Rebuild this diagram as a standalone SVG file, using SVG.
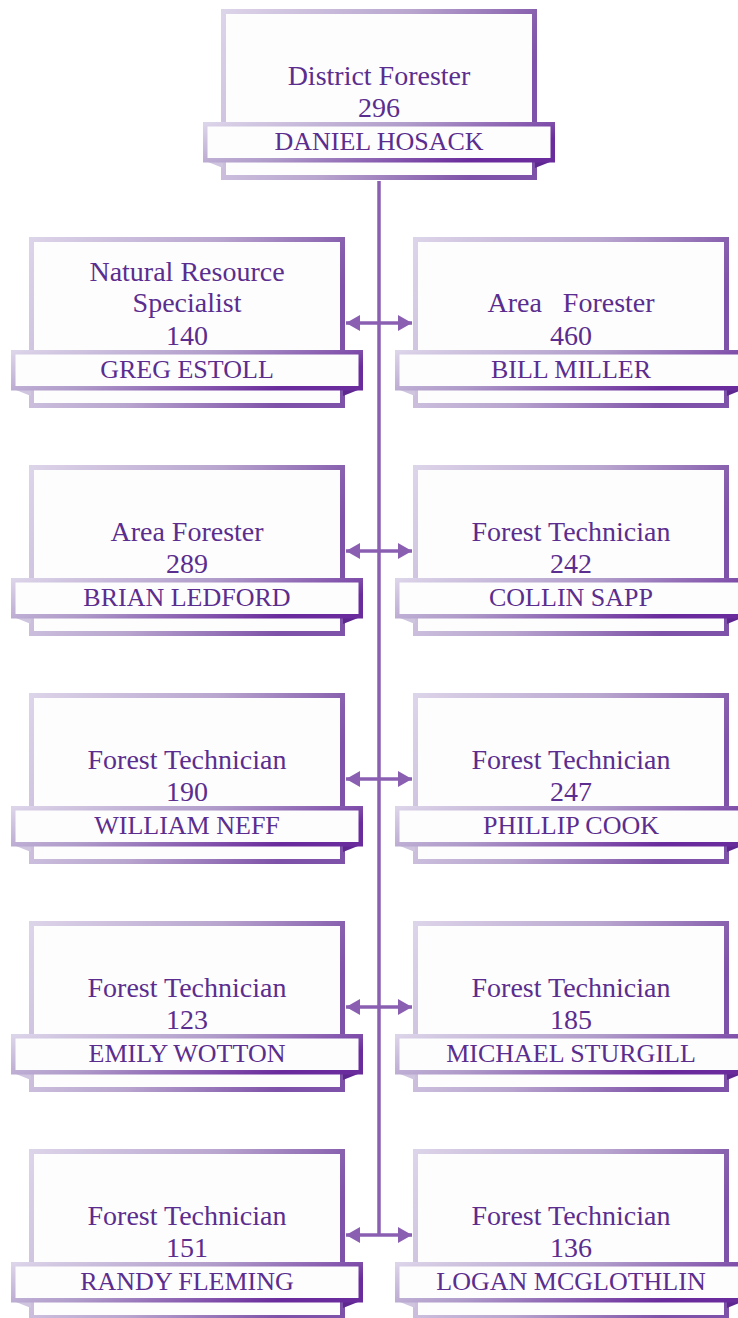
<svg xmlns="http://www.w3.org/2000/svg" width="738" height="1318" viewBox="0 0 738 1318">
<defs>
<linearGradient id="gBox" x1="0" y1="0" x2="1" y2="0.3">
<stop offset="0" stop-color="#dcd4e9"/>
<stop offset="0.55" stop-color="#b9a6cf"/>
<stop offset="1" stop-color="#7e52a8"/>
</linearGradient>
<linearGradient id="gBand" x1="0" y1="0" x2="1" y2="0.4">
<stop offset="0" stop-color="#dcd4e9"/>
<stop offset="0.5" stop-color="#b09cca"/>
<stop offset="1" stop-color="#6a2c9c"/>
</linearGradient>
<marker id="ah" viewBox="0 0 14 16" refX="14" refY="8" markerWidth="14" markerHeight="16" markerUnits="userSpaceOnUse" orient="auto-start-reverse">
<path d="M0,0 L14,8 L0,16 Z" fill="#8a5fb2"/>
</marker>
<g id="node">
<rect class="box" x="2.5" y="2.5" width="311" height="166"/>
<polygon points="-18,151 2,151 2,159" fill="#cfc5df"/>
<polygon points="314,151 334,151 314,159" fill="#5e2790"/>
<rect class="band" x="-15.75" y="115.25" width="347.5" height="36"/>
</g>
</defs>
<style>
.box{fill:#fdfdfd;stroke:url(#gBox);stroke-width:5}
.band{fill:#fdfdfd;stroke:url(#gBand);stroke-width:4.5}
.t{font-family:"Liberation Serif","Times New Roman",serif;font-size:28px;fill:#5b2d8e;text-anchor:middle}
.n{font-family:"Liberation Serif","Times New Roman",serif;font-size:26px;fill:#5b2d8e;text-anchor:middle}
.c{stroke:#8a5fb2;stroke-width:3.5;fill:none}
</style>

<g id="connectors">
<line class="c" x1="379" y1="181" x2="379" y2="1236"/>
<line class="c" x1="346" y1="323" x2="412" y2="323" marker-start="url(#ah)" marker-end="url(#ah)"/>
<line class="c" x1="346" y1="551" x2="412" y2="551" marker-start="url(#ah)" marker-end="url(#ah)"/>
<line class="c" x1="346" y1="779" x2="412" y2="779" marker-start="url(#ah)" marker-end="url(#ah)"/>
<line class="c" x1="346" y1="1007" x2="412" y2="1007" marker-start="url(#ah)" marker-end="url(#ah)"/>
<line class="c" x1="346" y1="1235" x2="412" y2="1235" marker-start="url(#ah)" marker-end="url(#ah)"/>
</g>

<g id="n-top" transform="translate(221,9)">
<use href="#node"/>
<text class="t" x="158" y="76">District Forester</text>
<text class="t" x="158" y="108">296</text>
<text class="n" x="158" y="141">DANIEL HOSACK</text>
</g>

<g id="n-estoll" transform="translate(29,237)">
<use href="#node"/>
<text class="t" x="158" y="44">Natural Resource</text>
<text class="t" x="158" y="75">Specialist</text>
<text class="t" x="158" y="108">140</text>
<text class="n" x="158" y="141">GREG ESTOLL</text>
</g>

<g id="n-miller" transform="translate(413,237)">
<use href="#node"/>
<text class="t" x="158" y="75" xml:space="preserve">Area   Forester</text>
<text class="t" x="158" y="108">460</text>
<text class="n" x="158" y="141">BILL MILLER</text>
</g>

<g id="n-ledford" transform="translate(29,465)">
<use href="#node"/>
<text class="t" x="158" y="76">Area Forester</text>
<text class="t" x="158" y="108">289</text>
<text class="n" x="158" y="141">BRIAN LEDFORD</text>
</g>

<g id="n-sapp" transform="translate(413,465)">
<use href="#node"/>
<text class="t" x="158" y="76">Forest Technician</text>
<text class="t" x="158" y="108">242</text>
<text class="n" x="158" y="141">COLLIN SAPP</text>
</g>

<g id="n-neff" transform="translate(29,693)">
<use href="#node"/>
<text class="t" x="158" y="76">Forest Technician</text>
<text class="t" x="158" y="108">190</text>
<text class="n" x="158" y="141">WILLIAM NEFF</text>
</g>

<g id="n-cook" transform="translate(413,693)">
<use href="#node"/>
<text class="t" x="158" y="76">Forest Technician</text>
<text class="t" x="158" y="108">247</text>
<text class="n" x="158" y="141">PHILLIP COOK</text>
</g>

<g id="n-wotton" transform="translate(29,921)">
<use href="#node"/>
<text class="t" x="158" y="76">Forest Technician</text>
<text class="t" x="158" y="108">123</text>
<text class="n" x="158" y="141">EMILY WOTTON</text>
</g>

<g id="n-sturgill" transform="translate(413,921)">
<use href="#node"/>
<text class="t" x="158" y="76">Forest Technician</text>
<text class="t" x="158" y="108">185</text>
<text class="n" x="158" y="141">MICHAEL STURGILL</text>
</g>

<g id="n-fleming" transform="translate(29,1149)">
<use href="#node"/>
<text class="t" x="158" y="76">Forest Technician</text>
<text class="t" x="158" y="108">151</text>
<text class="n" x="158" y="141">RANDY FLEMING</text>
</g>

<g id="n-mcglothlin" transform="translate(413,1149)">
<use href="#node"/>
<text class="t" x="158" y="76">Forest Technician</text>
<text class="t" x="158" y="108">136</text>
<text class="n" x="158" y="141">LOGAN MCGLOTHLIN</text>
</g>
</svg>
